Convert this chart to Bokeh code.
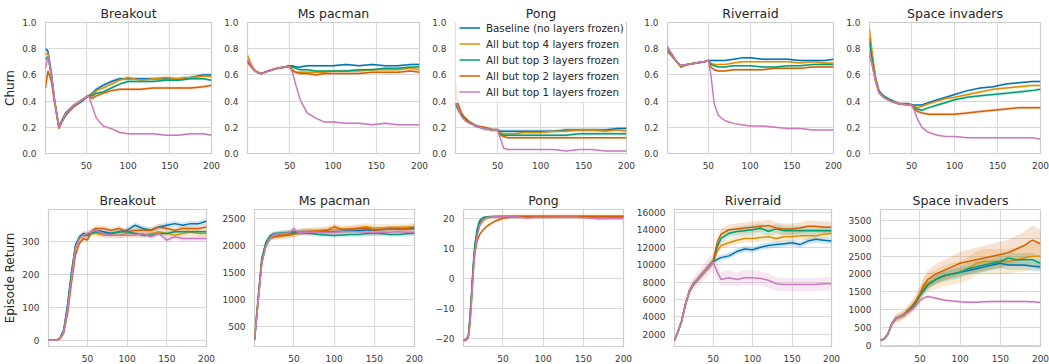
from bokeh.plotting import figure
from bokeh.layouts import column, row
from bokeh.models import Range1d, FixedTicker, PrintfTickFormatter, Legend, LegendItem
from bokeh.embed import file_html
from bokeh.resources import INLINE

SERIES = ["Baseline (no layers frozen)", "All but top 4 layers frozen",
          "All but top 3 layers frozen", "All but top 2 layers frozen",
          "All but top 1 layers frozen"]
COLORS = ["#0173b2", "#de8f05", "#029e73", "#d55e00", "#cc78bc"]
GAMES = ["Breakout", "Ms pacman", "Pong", "Riverraid", "Space invaders"]

# ---------------- Churn (top row) ----------------
X_CHURN = [1, 4, 8, 12, 17, 25, 35, 45, 50, 53, 57, 62, 70, 80, 90, 100, 115, 130, 145, 160, 175, 190, 200]

breakout_churn = [
    [0.80, 0.78, 0.62, 0.40, 0.20, 0.29, 0.36, 0.40, 0.43, 0.44, 0.46, 0.49, 0.52, 0.55, 0.57, 0.57, 0.57, 0.57, 0.57, 0.57, 0.58, 0.60, 0.60],
    [0.76, 0.76, 0.60, 0.40, 0.21, 0.30, 0.37, 0.41, 0.43, 0.44, 0.45, 0.48, 0.50, 0.53, 0.56, 0.58, 0.56, 0.57, 0.58, 0.57, 0.58, 0.59, 0.59],
    [0.72, 0.74, 0.60, 0.40, 0.21, 0.31, 0.37, 0.41, 0.43, 0.44, 0.44, 0.46, 0.47, 0.50, 0.53, 0.55, 0.55, 0.55, 0.56, 0.56, 0.57, 0.57, 0.56],
    [0.50, 0.63, 0.55, 0.38, 0.19, 0.30, 0.36, 0.41, 0.43, 0.44, 0.42, 0.44, 0.46, 0.48, 0.49, 0.49, 0.49, 0.50, 0.50, 0.50, 0.50, 0.51, 0.52],
    [0.65, 0.74, 0.60, 0.40, 0.20, 0.30, 0.37, 0.41, 0.43, 0.44, 0.36, 0.27, 0.21, 0.19, 0.16, 0.15, 0.15, 0.15, 0.14, 0.14, 0.15, 0.15, 0.14],
]
mspacman_churn = [
    [0.70, 0.68, 0.64, 0.62, 0.61, 0.63, 0.65, 0.66, 0.67, 0.67, 0.66, 0.66, 0.67, 0.67, 0.67, 0.67, 0.68, 0.67, 0.68, 0.67, 0.67, 0.68, 0.68],
    [0.75, 0.70, 0.65, 0.62, 0.61, 0.63, 0.65, 0.66, 0.67, 0.64, 0.62, 0.62, 0.62, 0.62, 0.62, 0.63, 0.63, 0.63, 0.64, 0.64, 0.64, 0.65, 0.64],
    [0.71, 0.68, 0.64, 0.62, 0.61, 0.63, 0.65, 0.66, 0.67, 0.66, 0.65, 0.64, 0.64, 0.63, 0.63, 0.63, 0.63, 0.64, 0.64, 0.65, 0.65, 0.66, 0.66],
    [0.70, 0.67, 0.64, 0.62, 0.61, 0.63, 0.65, 0.66, 0.67, 0.63, 0.62, 0.61, 0.61, 0.60, 0.61, 0.61, 0.61, 0.61, 0.62, 0.62, 0.62, 0.63, 0.62],
    [0.72, 0.69, 0.64, 0.62, 0.61, 0.63, 0.65, 0.66, 0.66, 0.62, 0.52, 0.41, 0.31, 0.27, 0.24, 0.24, 0.23, 0.23, 0.22, 0.23, 0.22, 0.22, 0.22],
]
pong_churn = [
    [0.40, 0.35, 0.30, 0.27, 0.24, 0.21, 0.19, 0.18, 0.18, 0.17, 0.17, 0.17, 0.17, 0.17, 0.17, 0.17, 0.17, 0.18, 0.18, 0.18, 0.18, 0.19, 0.19],
    [0.45, 0.36, 0.30, 0.27, 0.24, 0.21, 0.19, 0.18, 0.18, 0.16, 0.15, 0.15, 0.15, 0.16, 0.16, 0.16, 0.17, 0.17, 0.18, 0.18, 0.17, 0.18, 0.17],
    [0.38, 0.33, 0.29, 0.27, 0.24, 0.21, 0.19, 0.18, 0.18, 0.15, 0.14, 0.14, 0.14, 0.14, 0.14, 0.14, 0.14, 0.14, 0.15, 0.15, 0.15, 0.15, 0.15],
    [0.55, 0.38, 0.31, 0.27, 0.24, 0.21, 0.20, 0.18, 0.18, 0.14, 0.13, 0.12, 0.12, 0.12, 0.12, 0.12, 0.12, 0.12, 0.12, 0.12, 0.12, 0.12, 0.12],
    [0.42, 0.34, 0.28, 0.25, 0.23, 0.21, 0.19, 0.18, 0.18, 0.12, 0.04, 0.03, 0.03, 0.03, 0.03, 0.03, 0.03, 0.02, 0.03, 0.03, 0.02, 0.02, 0.02],
]
riverraid_churn = [
    [0.80, 0.78, 0.74, 0.70, 0.67, 0.68, 0.69, 0.70, 0.71, 0.71, 0.71, 0.71, 0.71, 0.72, 0.73, 0.73, 0.72, 0.72, 0.72, 0.71, 0.71, 0.71, 0.72],
    [0.81, 0.78, 0.74, 0.70, 0.66, 0.68, 0.69, 0.70, 0.71, 0.69, 0.68, 0.68, 0.68, 0.69, 0.70, 0.70, 0.70, 0.70, 0.70, 0.69, 0.70, 0.69, 0.69],
    [0.78, 0.76, 0.73, 0.70, 0.67, 0.68, 0.69, 0.70, 0.71, 0.68, 0.67, 0.66, 0.66, 0.67, 0.67, 0.67, 0.66, 0.66, 0.67, 0.67, 0.68, 0.68, 0.68],
    [0.80, 0.77, 0.73, 0.70, 0.66, 0.68, 0.69, 0.70, 0.71, 0.66, 0.64, 0.63, 0.63, 0.64, 0.64, 0.64, 0.64, 0.65, 0.65, 0.65, 0.66, 0.66, 0.66],
    [0.82, 0.78, 0.74, 0.70, 0.67, 0.68, 0.69, 0.70, 0.71, 0.60, 0.38, 0.29, 0.25, 0.23, 0.22, 0.21, 0.21, 0.20, 0.19, 0.19, 0.18, 0.18, 0.18],
]
spaceinv_churn = [
    [0.88, 0.75, 0.58, 0.48, 0.44, 0.41, 0.38, 0.38, 0.37, 0.37, 0.37, 0.37, 0.39, 0.41, 0.43, 0.45, 0.48, 0.50, 0.51, 0.53, 0.54, 0.55, 0.55],
    [0.95, 0.78, 0.58, 0.48, 0.44, 0.41, 0.38, 0.38, 0.37, 0.36, 0.35, 0.36, 0.38, 0.40, 0.42, 0.43, 0.45, 0.47, 0.49, 0.50, 0.51, 0.52, 0.52],
    [0.85, 0.72, 0.56, 0.47, 0.44, 0.41, 0.38, 0.38, 0.37, 0.35, 0.34, 0.33, 0.35, 0.37, 0.39, 0.41, 0.43, 0.44, 0.45, 0.46, 0.47, 0.48, 0.49],
    [0.75, 0.68, 0.55, 0.47, 0.43, 0.40, 0.38, 0.37, 0.37, 0.34, 0.32, 0.31, 0.30, 0.30, 0.30, 0.30, 0.31, 0.32, 0.33, 0.34, 0.35, 0.35, 0.35],
    [0.78, 0.68, 0.55, 0.46, 0.43, 0.40, 0.38, 0.37, 0.37, 0.33, 0.26, 0.20, 0.16, 0.14, 0.13, 0.13, 0.12, 0.12, 0.12, 0.12, 0.12, 0.12, 0.11],
]
# absolute half-widths of the shaded bands (churn)
churn_band = [
    [0.015, 0.012, 0.01, 0.012, 0.008],
    [0.008, 0.012, 0.008, 0.008, 0.008],
    [0.015, 0.012, 0.012, 0.008, 0.004],
    [0.008, 0.008, 0.008, 0.008, 0.006],
    [0.008, 0.012, 0.012, 0.012, 0.004],
]

# ---------------- Episode return (bottom row) ----------------
X_RET = [1, 5, 10, 15, 20, 25, 30, 35, 40, 45, 50, 55, 60, 70, 80, 90, 100, 110, 120, 130, 140, 150, 160, 170, 180, 190, 200]
X_PONG = [1, 4, 7, 9, 11, 13, 15, 18, 21, 25, 30, 35, 40, 50, 60, 70, 80, 90, 100, 120, 140, 160, 170, 180, 200]

breakout_ret = [
    [0, 0, 0, 5, 30, 110, 210, 290, 315, 325, 320, 330, 335, 330, 325, 330, 335, 350, 340, 335, 345, 350, 355, 350, 355, 355, 362],
    [0, 0, 0, 4, 25, 95, 195, 280, 310, 320, 320, 325, 325, 320, 320, 320, 325, 325, 320, 325, 330, 325, 320, 325, 330, 325, 325],
    [0, 0, 0, 5, 28, 100, 200, 285, 315, 320, 320, 325, 330, 325, 325, 330, 330, 325, 320, 320, 325, 325, 330, 330, 330, 330, 330],
    [0, 0, 0, 3, 20, 80, 175, 260, 295, 310, 305, 330, 340, 340, 335, 340, 330, 335, 335, 335, 345, 340, 335, 340, 340, 340, 345],
    [0, 0, 0, 4, 25, 95, 190, 280, 310, 320, 325, 330, 335, 325, 320, 320, 320, 320, 325, 315, 325, 305, 315, 310, 310, 310, 310],
]
mspacman_ret = [
    [250, 900, 1700, 2000, 2150, 2200, 2200, 2210, 2220, 2220, 2230, 2230, 2250, 2250, 2250, 2250, 2250, 2260, 2270, 2270, 2280, 2280, 2290, 2300, 2300, 2300, 2310],
    [280, 950, 1750, 2020, 2150, 2180, 2180, 2190, 2200, 2200, 2200, 2230, 2250, 2250, 2270, 2280, 2290, 2300, 2300, 2320, 2340, 2320, 2320, 2330, 2330, 2330, 2340],
    [260, 920, 1750, 2050, 2170, 2210, 2220, 2230, 2230, 2240, 2250, 2240, 2230, 2220, 2200, 2190, 2180, 2190, 2200, 2200, 2210, 2220, 2210, 2200, 2200, 2210, 2220],
    [250, 880, 1680, 1980, 2120, 2150, 2160, 2170, 2180, 2190, 2210, 2230, 2250, 2260, 2260, 2270, 2340, 2290, 2300, 2310, 2320, 2280, 2290, 2300, 2300, 2310, 2330],
    [240, 870, 1650, 1980, 2120, 2200, 2210, 2220, 2220, 2230, 2310, 2240, 2240, 2240, 2240, 2240, 2240, 2250, 2260, 2250, 2240, 2230, 2240, 2240, 2250, 2240, 2240],
]
pong_ret = [
    [-20.8, -20.6, -19.5, -14, -6, 3, 10, 15.5, 18.5, 19.8, 20.3, 20.5, 20.6, 20.6, 20.6, 20.6, 20.6, 20.6, 20.6, 20.6, 20.6, 20.6, 20.6, 20.6, 20.6],
    [-20.8, -20.6, -19.5, -14, -6, 3, 9.5, 14.5, 17.5, 19.0, 20.0, 20.3, 20.5, 20.6, 20.6, 20.6, 20.6, 20.6, 20.6, 20.6, 20.6, 20.6, 20.6, 20.6, 20.6],
    [-20.8, -20.6, -19.3, -13, -5, 4, 11, 16.5, 19.2, 20.2, 20.5, 20.6, 20.6, 20.6, 20.6, 20.6, 20.6, 20.6, 20.6, 20.6, 20.6, 20.6, 20.6, 20.6, 20.6],
    [-20.8, -20.6, -19.6, -15, -7, 2, 8, 12.5, 14.5, 16.0, 17.3, 18.2, 19.0, 20.0, 20.4, 20.5, 20.5, 20.5, 20.5, 20.5, 20.5, 20.5, 20.5, 20.5, 20.5],
    [-20.8, -20.7, -20.0, -16, -8, 1, 8.5, 14, 17.5, 19.5, 20.2, 20.4, 20.5, 20.5, 20.5, 20.4, 20.0, 20.3, 20.2, 20.3, 20.3, 20.0, 19.7, 19.8, 19.8],
]
riverraid_ret = [
    [1300, 2200, 3500, 5500, 7000, 7800, 8300, 8800, 9300, 9800, 10300, 10600, 10800, 11000, 11500, 11800, 11700, 12000, 12200, 12300, 12400, 12500, 12300, 12700, 12900, 12800, 12700],
    [1300, 2200, 3500, 5500, 7000, 7800, 8300, 8800, 9300, 9800, 10300, 11500, 12200, 12500, 12800, 13000, 13000, 13100, 13200, 13000, 13200, 13200, 13300, 13300, 13300, 13500, 13600],
    [1300, 2200, 3500, 5400, 6900, 7700, 8200, 8800, 9300, 9800, 10300, 12000, 13000, 13600, 13800, 13900, 14000, 14200, 13800, 14100, 13900, 13900, 13900, 13900, 13900, 13900, 13900],
    [1300, 2200, 3500, 5500, 7000, 7800, 8300, 8800, 9300, 9900, 10400, 12500, 13500, 14000, 14100, 14200, 14300, 14400, 14500, 14200, 14100, 14100, 14200, 14400, 14400, 14300, 14300],
    [1300, 2200, 3500, 5500, 7000, 7800, 8300, 8800, 9300, 9800, 10300, 9200, 8300, 8500, 8300, 8500, 8500, 8400, 8200, 7800, 7700, 7700, 7700, 7700, 7700, 7800, 7800],
]
spaceinv_ret = [
    [150, 170, 300, 600, 750, 800, 850, 950, 1050, 1200, 1400, 1550, 1700, 1850, 1950, 2000, 2050, 2100, 2150, 2200, 2250, 2300, 2250, 2250, 2250, 2220, 2200],
    [150, 170, 300, 600, 750, 800, 850, 950, 1050, 1200, 1400, 1650, 1750, 1850, 1950, 2000, 2050, 2150, 2300, 2350, 2350, 2350, 2350, 2400, 2450, 2500, 2500],
    [150, 170, 300, 600, 750, 800, 850, 950, 1050, 1200, 1400, 1550, 1700, 1850, 1950, 2000, 2050, 2150, 2200, 2250, 2300, 2350, 2450, 2400, 2400, 2400, 2300],
    [150, 170, 300, 600, 750, 800, 870, 980, 1100, 1250, 1450, 1700, 1850, 2000, 2100, 2200, 2300, 2350, 2400, 2450, 2500, 2550, 2600, 2700, 2800, 2950, 2850],
    [150, 170, 300, 600, 750, 800, 850, 920, 1000, 1100, 1250, 1330, 1370, 1320, 1270, 1240, 1220, 1210, 1210, 1220, 1230, 1230, 1230, 1230, 1230, 1220, 1200],
]
# relative half-widths of the shaded bands (fraction of the value)
ret_band = [
    [0.025, 0.03, 0.02, 0.025, 0.03],
    [0.02, 0.03, 0.02, 0.025, 0.025],
    [0.01, 0.03, 0.01, 0.03, 0.01],
    [0.03, 0.035, 0.04, 0.045, 0.1],
    [0.06, 0.15, 0.08, 0.14, 0.03],
]

X_TICKS = [50, 100, 150, 200]
CHURN_TICKS = [0.0, 0.2, 0.4, 0.6, 0.8, 1.0]
RET_TICKS = [
    [0, 100, 200, 300],
    [500, 1000, 1500, 2000, 2500],
    [-20, -10, 0, 10, 20],
    [2000, 4000, 6000, 8000, 10000, 12000, 14000, 16000],
    [0, 500, 1000, 1500, 2000, 2500, 3000, 3500],
]
RET_YRANGES = [(-19, 398), (130, 2660), (-22.8, 22.9), (590, 16330), (-35, 3810)]

FONT = "DejaVu Sans"

# layout: (width, border_left, border_right)
TOP_GEOM = [(221, 38, 10), (208, 25, 10), (212, 24, 15), (202, 20, 10), (206, 24, 9)]
BOT_GEOM = [(216, 45, 10), (208, 38, 10), (209, 39, 10), (208, 38, 10), (208, 39, 9)]


def make_fig(title, geom, height, bt, bb, yr):
    w, bl, br = geom
    p = figure(width=w, height=height, x_range=Range1d(1, 200), y_range=Range1d(*yr),
               output_backend="svg", toolbar_location=None, title=title,
               min_border_left=bl, min_border_right=br, min_border_top=bt, min_border_bottom=bb)
    p.title.text_font = FONT
    p.title.text_font_size = "12.5px"
    p.title.text_font_style = "normal"
    p.title.text_color = "#262626"
    p.title.align = "center"
    p.title.standoff = 3
    p.outline_line_color = "#cccccc"
    p.outline_line_width = 1.2
    p.background_fill_color = "white"
    p.border_fill_color = "white"
    for ax in (p.xaxis, p.yaxis):
        ax.axis_line_color = None
        ax.major_tick_line_color = None
        ax.minor_tick_line_color = None
        ax.major_label_text_font = FONT
        ax.major_label_text_font_size = "9px"
        ax.major_label_text_color = "#3a3a3a"
        ax.axis_label_text_font = FONT
        ax.axis_label_text_font_size = "12px"
        ax.axis_label_text_font_style = "normal"
        ax.axis_label_text_color = "#262626"
        ax.axis_label_standoff = 2
    p.xaxis.major_label_standoff = 2
    p.yaxis.major_label_standoff = 3
    p.xaxis.ticker = FixedTicker(ticks=X_TICKS)
    p.xgrid.ticker = FixedTicker(ticks=X_TICKS)
    p.xgrid.grid_line_color = "#d9d9d9"
    p.ygrid.grid_line_color = "#d9d9d9"
    p.xgrid.grid_line_width = 1.1
    p.ygrid.grid_line_width = 1.1
    return p


def draw(p, xs, series, bands, relative):
    rends = []
    for vals, err, col in zip(series, bands, COLORS):
        if relative:
            lo = [v - err * abs(v) for v in vals]
            hi = [v + err * abs(v) for v in vals]
        else:
            lo = [v - err for v in vals]
            hi = [v + err for v in vals]
        p.varea(x=xs, y1=lo, y2=hi, fill_color=col, fill_alpha=0.18)
    for vals, col in zip(series, COLORS):
        r = p.line(xs, vals, line_color=col, line_width=1.5)
        rends.append(r)
    return rends


churn_data = [breakout_churn, mspacman_churn, pong_churn, riverraid_churn, spaceinv_churn]
ret_data = [breakout_ret, mspacman_ret, pong_ret, riverraid_ret, spaceinv_ret]

top = []
for i, g in enumerate(GAMES):
    p = make_fig(g, TOP_GEOM[i], 175, 22, 22, (0, 1))
    p.yaxis.ticker = FixedTicker(ticks=CHURN_TICKS)
    p.ygrid.ticker = FixedTicker(ticks=CHURN_TICKS)
    p.yaxis.formatter = PrintfTickFormatter(format="%.1f")
    rends = draw(p, X_CHURN, churn_data[i], churn_band[i], False)
    if i == 0:
        p.yaxis.axis_label = "Churn"
    if i == 2:
        legend = Legend(items=[LegendItem(label=s, renderers=[r]) for s, r in zip(SERIES, rends)],
                        location=(0, 50))
        legend.label_text_font = FONT
        legend.label_text_font_size = "10.3px"
        legend.label_text_color = "#262626"
        legend.glyph_width = 21
        legend.glyph_height = 15
        legend.label_height = 15
        legend.label_standoff = 6
        legend.spacing = 1
        legend.padding = 3
        legend.margin = 0
        legend.border_line_color = "#cccccc"
        legend.border_line_width = 1
        legend.background_fill_color = "white"
        legend.background_fill_alpha = 0.85
        p.add_layout(legend)
    top.append(p)

bottom = []
for i, g in enumerate(GAMES):
    p = make_fig(g, BOT_GEOM[i], 189, 34, 14, RET_YRANGES[i])
    p.yaxis.ticker = FixedTicker(ticks=RET_TICKS[i])
    p.ygrid.ticker = FixedTicker(ticks=RET_TICKS[i])
    xs = X_PONG if g == "Pong" else X_RET
    draw(p, xs, ret_data[i], ret_band[i], True)
    if g == "Pong":
        p.yaxis.major_label_overrides = {-20: "\u221220", -10: "\u221210"}
    if i == 0:
        p.yaxis.axis_label = "Episode Return"
    bottom.append(p)

layout = column(row(*top, spacing=0), row(*bottom, spacing=0), spacing=0)
open("out.html", "w").write(file_html(layout, INLINE))
